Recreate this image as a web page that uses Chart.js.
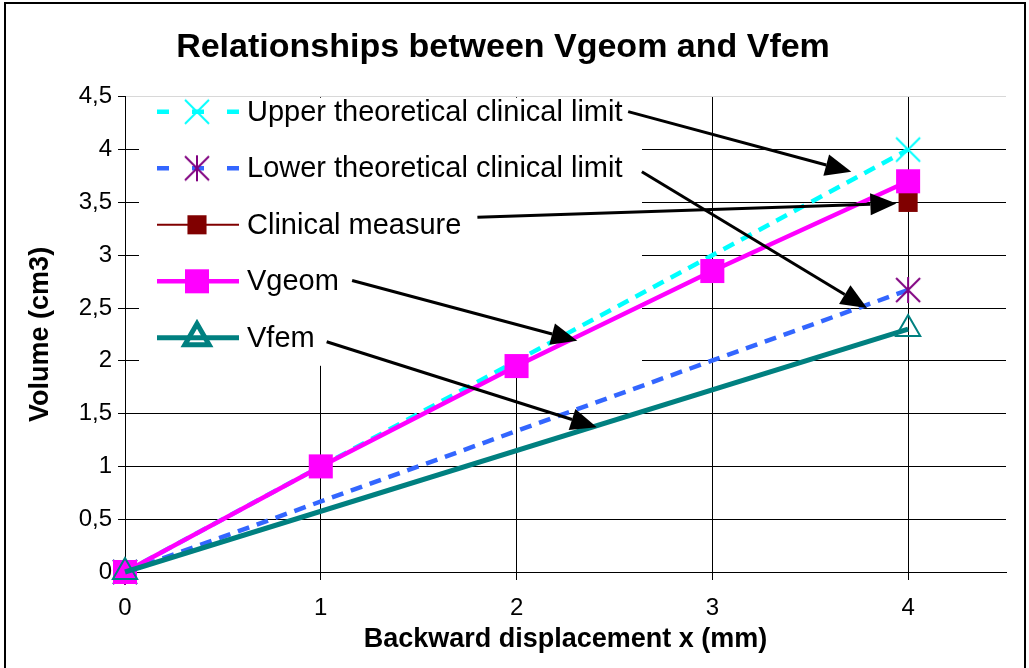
<!DOCTYPE html>
<html>
<head>
<meta charset="utf-8">
<script src="https://cdn.jsdelivr.net/npm/chart.js@4.4.0/dist/chart.umd.min.js"></script>
<style>
  body { margin: 0; background: #fff; }
</style>
</head>
<body>
<canvas id="chart" width="1029" height="668"></canvas>
<script>
const seriesNames = ['Upper theoretical clinical limit', 'Lower theoretical clinical limit', 'Clinical measure', 'Vgeom', 'Vfem']
const upperX = [0, 4]
const upperY = [0, 4]
const lowerX = [0, 4]
const lowerY = [0, 2.67]
const clinicalX = [4]
const clinicalY = [3.5]
const vgeomX = [0, 1, 2, 3, 4]
const vgeomY = [0, 1, 1.95, 2.85, 3.7]
const vfemX = [0, 4]
const vfemY = [0, 2.3]
const xTickLabels = ['0', '1', '2', '3', '4']
const yTickLabels = ['0', '0,5', '1', '1,5', '2', '2,5', '3', '3,5', '4', '4,5']

const FONT = "'Liberation Sans', Arial, sans-serif"

function pts(xs, ys) {
  return xs.map((x, i) => ({ x: x, y: ys[i] }))
}

// little canvases for the x and star markers
function crossMarker(color, withVertical) {
  const c = document.createElement('canvas')
  c.width = c.height = 28
  const g = c.getContext('2d')
  g.strokeStyle = color
  g.lineWidth = 2
  g.beginPath()
  g.moveTo(2, 2); g.lineTo(26, 26)
  g.moveTo(26, 2); g.lineTo(2, 26)
  if (withVertical) { g.moveTo(14, 1); g.lineTo(14, 27) }
  g.stroke()
  return c
}
const xMark = crossMarker('#00ffff', false)
const starMark = crossMarker('#800080', true)

// arrows from the legend labels to the curves (data units)
const arrowLinks = [
  [[2.57, 4.36], [3.71, 3.79]],
  [[2.64, 3.79], [3.79, 2.50]],
  [[1.80, 3.36], [3.94, 3.49]],
  [[1.16, 2.76], [2.31, 2.19]],
  [[1.03, 2.18], [2.41, 1.37]]
]

function drawArrow(ctx, x1, y1, x2, y2) {
  const a = Math.atan2(y2 - y1, x2 - x1)
  const L = 26, W = 11
  const bx = x2 - L * Math.cos(a), by = y2 - L * Math.sin(a)
  ctx.beginPath()
  ctx.moveTo(x1, y1)
  ctx.lineTo(bx, by)
  ctx.stroke()
  ctx.beginPath()
  ctx.moveTo(x2, y2)
  ctx.lineTo(bx + W * Math.sin(a), by - W * Math.cos(a))
  ctx.lineTo(bx - W * Math.sin(a), by + W * Math.cos(a))
  ctx.closePath()
  ctx.fill()
}

const framePlugin = {
  id: 'frame',
  beforeDraw(chart) {
    const ctx = chart.ctx
    ctx.save()
    ctx.fillStyle = '#fff'
    ctx.fillRect(0, 0, chart.width, chart.height)
    ctx.strokeStyle = '#000'
    ctx.lineWidth = 2
    ctx.strokeRect(5, 3, 1020, 700)
    ctx.restore()
  }
}

const legendPlugin = {
  id: 'innerLegend',
  beforeDatasetsDraw(chart) {
    const { ctx, chartArea: a } = chart
    ctx.save()
    ctx.fillStyle = '#fff'
    ctx.fillRect(a.left + 14, a.top + 1, 503, 268)
    ctx.restore()
  },
  afterDatasetsDraw(chart) {
    const { ctx, chartArea: a } = chart
    ctx.save()
    chart.data.datasets.forEach((ds, i) => {
      const y = a.top + 15 + i * 56.5
      const x0 = a.left + 32, x1 = a.left + 114, xm = a.left + 72
      ctx.strokeStyle = ds.borderColor
      ctx.lineWidth = ds.borderWidth
      ctx.setLineDash(ds.borderDash ? [12, 23] : [])
      ctx.beginPath()
      ctx.moveTo(x0, y)
      ctx.lineTo(x1, y)
      ctx.stroke()
      ctx.setLineDash([])
      ctx.fillStyle = ds.pointBackgroundColor || '#000'
      ctx.strokeStyle = ds.pointBorderColor || ds.borderColor
      Chart.helpers.drawPoint(ctx, {
        pointStyle: ds.pointStyle,
        radius: ds.pointRadius,
        rotation: 0,
        borderWidth: ds.pointBorderWidth
      }, xm, y)
      ctx.fillStyle = '#000'
      ctx.font = '29px ' + FONT
      ctx.textBaseline = 'middle'
      ctx.textAlign = 'left'
      ctx.fillText(ds.label, a.left + 122, y + 1)
    })
    ctx.restore()
  },
  afterDraw(chart) {
    const ctx = chart.ctx
    const xs = chart.scales.x, ys = chart.scales.y
    ctx.save()
    ctx.strokeStyle = '#000'
    ctx.fillStyle = '#000'
    ctx.lineWidth = 3
    arrowLinks.forEach(([from, to]) => {
      drawArrow(ctx,
        xs.getPixelForValue(from[0]), ys.getPixelForValue(from[1]),
        xs.getPixelForValue(to[0]), ys.getPixelForValue(to[1]))
    })
    ctx.restore()
  }
}

new Chart(document.getElementById('chart'), {
  type: 'scatter',
  data: {
    datasets: [
      {
        label: seriesNames[0],
        data: pts(upperX, upperY),
        showLine: true,
        clip: false,
        borderColor: '#00ffff',
        borderWidth: 4.5,
        borderDash: [12, 8],
        pointStyle: xMark,
        pointRadius: 12,
        pointBorderWidth: 0,
        order: 5
      },
      {
        label: seriesNames[1],
        data: pts(lowerX, lowerY),
        showLine: true,
        clip: false,
        borderColor: '#3366ff',
        borderWidth: 4.5,
        borderDash: [12, 8],
        pointStyle: starMark,
        pointRadius: 12,
        pointBorderWidth: 0,
        order: 4
      },
      {
        label: seriesNames[2],
        data: pts(clinicalX, clinicalY),
        showLine: false,
        clip: false,
        borderColor: '#800000',
        borderWidth: 2,
        pointStyle: 'rect',
        pointRadius: 13.5,
        pointBackgroundColor: '#800000',
        pointBorderColor: '#800000',
        pointBorderWidth: 0,
        order: 3
      },
      {
        label: seriesNames[3],
        data: pts(vgeomX, vgeomY),
        showLine: true,
        clip: false,
        borderColor: '#ff00ff',
        borderWidth: 4.5,
        pointStyle: 'rect',
        pointRadius: 17,
        pointBackgroundColor: '#ff00ff',
        pointBorderColor: '#ff00ff',
        pointBorderWidth: 0,
        order: 2
      },
      {
        label: seriesNames[4],
        data: pts(vfemX, vfemY),
        showLine: true,
        clip: false,
        borderColor: '#008080',
        borderWidth: 5,
        pointStyle: 'triangle',
        pointRadius: 14,
        pointBackgroundColor: 'rgba(0,0,0,0)',
        pointBorderColor: '#008080',
        pointBorderWidth: 2,
        order: 1
      }
    ]
  },
  options: {
    responsive: false,
    animation: false,
    events: [],
    layout: { padding: { left: 0, right: 23, top: 0, bottom: 0 } },
    plugins: {
      legend: { display: false },
      tooltip: { enabled: false },
      title: {
        display: true,
        text: 'Relationships between Vgeom and Vfem',
        color: '#000',
        font: { family: FONT, size: 34, weight: 'bold' },
        padding: { top: 27, bottom: 29 }
      }
    },
    scales: {
      x: {
        type: 'linear',
        min: 0,
        max: 4.5,
        afterFit: s => { s.height = 96 },
        ticks: {
          stepSize: 1,
          includeBounds: false,
          padding: 14,
          color: '#000',
          font: { family: FONT, size: 24 },
          callback: (v, i) => xTickLabels[i]
        },
        grid: { color: '#000', lineWidth: 1, tickLength: 8, tickColor: '#000' },
        border: { color: '#000', width: 1 },
        title: {
          display: true,
          text: 'Backward displacement x (mm)',
          color: '#000',
          font: { family: FONT, size: 27, weight: 'bold' },
          padding: { top: 0, bottom: 12 }
        }
      },
      y: {
        type: 'linear',
        min: 0,
        max: 4.5,
        afterFit: s => { s.width = 125 },
        ticks: {
          stepSize: 0.5,
          padding: 6,
          color: '#000',
          font: { family: FONT, size: 24 },
          callback: (v, i) => yTickLabels[i]
        },
        grid: {
          color: ctx => ctx.tick && ctx.tick.value === 4.5 ? '#d8d8d8' : '#000',
          lineWidth: 1,
          tickLength: 7,
          tickColor: '#000'
        },
        border: { color: '#000', width: 1 },
        title: {
          display: true,
          text: 'Volume (cm3)',
          color: '#000',
          font: { family: FONT, size: 27, weight: 'bold' },
          padding: { top: 24, bottom: 0 }
        }
      }
    }
  },
  plugins: [framePlugin, legendPlugin]
})
</script>
</body>
</html>
